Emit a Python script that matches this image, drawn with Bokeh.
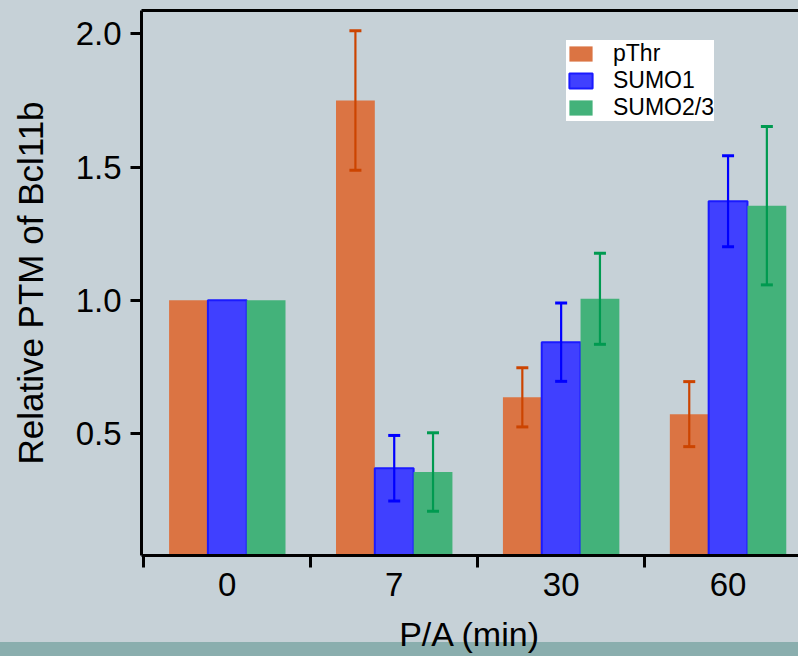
from bokeh.plotting import figure
from bokeh.models import (Range1d, LinearAxis, FixedTicker, ColumnDataSource, Whisker,
                          TeeHead, Legend, LegendItem, PrintfTickFormatter)
from bokeh.embed import file_html
from bokeh.resources import INLINE

categories = ["0", "7", "30", "60"]
series = ["pThr", "SUMO1", "SUMO2/3"]
pthr = [1.0, 1.75, 0.636, 0.573]
sumo1 = [1.0, 0.37, 0.843, 1.372]
sumo23 = [1.0, 0.356, 1.006, 1.355]
pthr_err = [0.0, 0.262, 0.111, 0.122]
sumo1_err = [0.0, 0.123, 0.147, 0.171]
sumo23_err = [0.0, 0.147, 0.171, 0.297]
y_ticks = [0.5, 1.0, 1.5, 2.0]
x_title = "P/A (min)"
y_title = "Relative PTM of Bcl11b"

FONT = "Liberation Sans"
BG = "#c6d1d7"
BAND = "#8aaeae"
bar_colors = ["#db7443", "#4040ff", "#43b27a"]
bar_lines = [None, "#1a1aff", None]
err_colors = ["#cc4400", "#0000ff", "#009a50"]

p = figure(width=798, height=656, output_backend="svg", toolbar_location=None,
           x_range=Range1d(-0.014, 3.922), y_range=Range1d(0.0425, 2.0876),
           min_border_left=141, min_border_right=0, min_border_top=10, min_border_bottom=101,
           background_fill_color=BG, border_fill_color=BG, border_fill_alpha=0.0,
           outline_line_color=None)
p.styles = {"background": f"linear-gradient(to bottom, {BG} 0px, {BG} 642px, {BAND} 642px, {BAND} 100%)"}
p.xgrid.grid_line_color = None
p.ygrid.grid_line_color = None

# x axis: labels at category centres, boundary ticks as minor ticks
xax = p.xaxis[0]
xax.ticker = FixedTicker(ticks=[i + 0.5 for i in range(len(categories))],
                         minor_ticks=[float(i) for i in range(len(categories))])
xax.major_label_overrides = {i + 0.5: c for i, c in enumerate(categories)}
xax.major_tick_out = 0
xax.major_tick_in = 0
xax.minor_tick_out = 12
xax.minor_tick_in = 0
xax.minor_tick_line_width = 3
xax.minor_tick_line_color = "black"
xax.axis_line_width = 3
xax.axis_line_color = "black"
xax.major_label_standoff = 5
xax.major_label_text_font = FONT
xax.major_label_text_font_size = "33px"
xax.major_label_text_color = "black"
xax.axis_label = x_title
xax.axis_label_text_font = FONT
xax.axis_label_text_font_size = "34px"
xax.axis_label_text_font_style = "normal"
xax.axis_label_text_color = "black"
xax.axis_label_standoff = 16

yax = p.yaxis[0]
yax.ticker = FixedTicker(ticks=y_ticks)
yax.formatter = PrintfTickFormatter(format="%.1f")
yax.major_tick_out = 11
yax.major_tick_in = 0
yax.minor_tick_out = 0
yax.minor_tick_in = 0
yax.major_tick_line_width = 3
yax.major_tick_line_color = "black"
yax.axis_line_width = 3
yax.axis_line_color = "black"
yax.major_label_standoff = 9
yax.major_label_text_font = FONT
yax.major_label_text_font_size = "33px"
yax.major_label_text_color = "black"
yax.axis_label = y_title
yax.axis_label_text_font = FONT
yax.axis_label_text_font_size = "35px"
yax.axis_label_text_font_style = "normal"
yax.axis_label_text_color = "black"
yax.axis_label_standoff = 23

top_axis = LinearAxis(ticker=FixedTicker(ticks=[]), major_label_text_font_size="0px",
                      major_tick_out=0, major_tick_in=0, minor_tick_out=0, minor_tick_in=0,
                      major_label_standoff=0, axis_line_width=3, axis_line_color="black")
p.add_layout(top_axis, "above")

values = [pthr, sumo1, sumo23]
errors = [pthr_err, sumo1_err, sumo23_err]
offsets = [-0.2325, 0.0, 0.2325]
bar_w = 0.2325

items = []
for k, name in enumerate(series):
    xs = [i + 0.5 + offsets[k] for i in range(len(categories))]
    src = ColumnDataSource(dict(x=xs, top=values[k]))
    if bar_lines[k]:
        r = p.vbar(x="x", top="top", bottom=0, width=bar_w, source=src,
                   fill_color=bar_colors[k], line_color=bar_lines[k], line_width=2)
    else:
        r = p.vbar(x="x", top="top", bottom=0, width=bar_w, source=src,
                   fill_color=bar_colors[k], line_color=None)
    items.append(LegendItem(label=name, renderers=[r]))
    wx, wu, wl = [], [], []
    for i in range(len(categories)):
        if errors[k][i] > 0:
            wx.append(xs[i])
            wu.append(values[k][i] + errors[k][i])
            wl.append(values[k][i] - errors[k][i])
    wsrc = ColumnDataSource(dict(x=wx, upper=wu, lower=wl))
    w = Whisker(base="x", upper="upper", lower="lower", source=wsrc,
                line_color=err_colors[k], line_width=2.2, level="annotation",
                upper_head=TeeHead(size=12, line_color=err_colors[k], line_width=3),
                lower_head=TeeHead(size=12, line_color=err_colors[k], line_width=3))
    p.add_layout(w)

legend = Legend(items=items, location=(425, 434), margin=0, padding=6, spacing=0,
                background_fill_color="white", background_fill_alpha=1.0,
                border_line_color=None, label_text_font=FONT, label_text_font_size="23px",
                label_text_color="black", glyph_width=29, glyph_height=19,
                label_standoff=18, label_height=19)
p.add_layout(legend)

open("out.html", "w").write(file_html(p, INLINE))
